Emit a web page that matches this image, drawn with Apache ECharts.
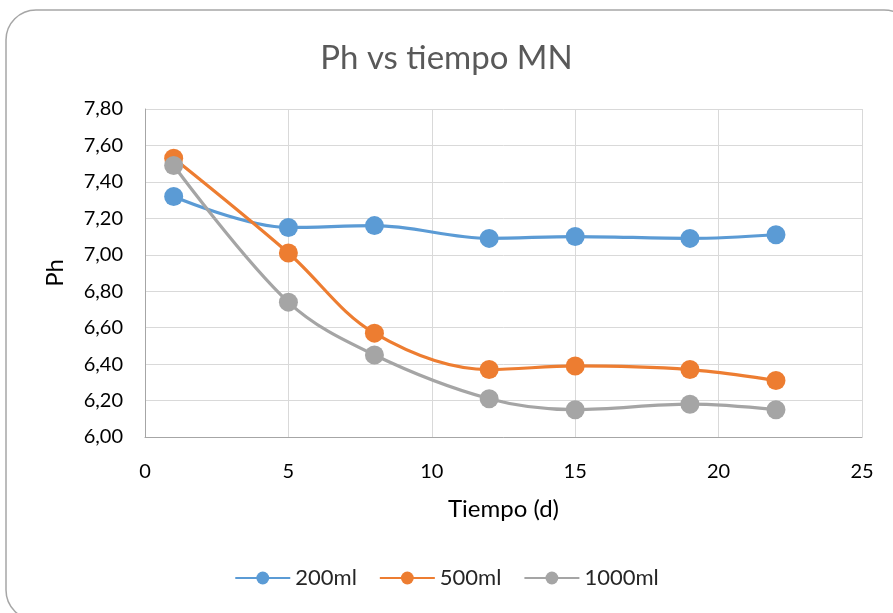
<!DOCTYPE html>
<html>
<head>
<meta charset="utf-8">
<script src="https://cdn.jsdelivr.net/npm/echarts@6/dist/echarts.min.js"></script>
<style>
  html, body { margin: 0; padding: 0; background: #fff; }
  #chart { width: 893px; height: 613px; }
</style>
</head>
<body>
<div id="chart"></div>
<script>
// Sampling days (x) and pH readings for each volume
const days = [1, 5, 8, 12, 15, 19, 22];
const ph200 = [7.32, 7.15, 7.16, 7.09, 7.10, 7.09, 7.11];
const ph500 = [7.53, 7.01, 6.57, 6.37, 6.39, 6.37, 6.31];
const ph1000 = [7.49, 6.74, 6.45, 6.21, 6.15, 6.18, 6.15];
const seriesNames = ['200ml', '500ml', '1000ml'];
const seriesColors = ['#5B9BD5', '#ED7D31', '#A5A5A5'];

const FONT = 'Lato, "Open Sans", sans-serif';

function pairs(xs, ys) {
  return xs.map((x, i) => [x, ys[i]]);
}

function makeSeries(name, values, color) {
  return {
    name: name,
    type: 'line',
    smooth: 0.35,
    data: pairs(days, values),
    symbol: 'circle',
    symbolSize: 19,
    lineStyle: { color: color, width: 3.2 },
    itemStyle: { color: color },
    emphasis: { disabled: true },
    animation: false
  };
}

const chart = echarts.init(document.getElementById('chart'));
chart.setOption({
  backgroundColor: '#fff',
  animation: false,
  graphic: [{
    type: 'rect',
    shape: { x: 6, y: 10, width: 908, height: 610, r: 30 },
    style: { fill: 'none', stroke: '#a6a6a6', lineWidth: 1.5 },
    silent: true,
    z: -1
  }],
  title: {
    text: 'Ph vs tiempo MN',
    left: 'center',
    top: 37,
    textStyle: { fontFamily: FONT, fontSize: 33, fontWeight: 'normal', color: '#595959' }
  },
  grid: { left: 145, right: 31, top: 109, bottom: 176 },
  legend: {
    bottom: 19,
    left: 'center',
    itemWidth: 55,
    itemHeight: 16,
    itemGap: 22,
    textStyle: { fontFamily: FONT, fontSize: 22, color: '#262626' },
    data: seriesNames
  },
  xAxis: {
    type: 'value',
    min: 0,
    max: 25,
    interval: 5,
    name: 'Tiempo (d)',
    nameLocation: 'middle',
    nameGap: 60,
    nameTextStyle: { fontFamily: FONT, fontSize: 24, color: '#000' },
    axisLine: { lineStyle: { color: '#a6a6a6', width: 1 } },
    axisTick: { show: false },
    axisLabel: { fontFamily: FONT, fontSize: 20, color: '#000', margin: 25 },
    splitLine: { show: true, lineStyle: { color: '#d9d9d9', width: 1 } }
  },
  yAxis: {
    type: 'value',
    min: 6.0,
    max: 7.8,
    interval: 0.2,
    name: 'Ph',
    nameLocation: 'middle',
    nameGap: 78,
    nameRotate: 90,
    nameTextStyle: { fontFamily: FONT, fontSize: 24, color: '#000' },
    axisLine: { show: true, lineStyle: { color: '#a6a6a6', width: 1 } },
    axisTick: { show: false },
    axisLabel: {
      fontFamily: FONT, fontSize: 20, color: '#000', margin: 22,
      formatter: v => v.toFixed(2).replace('.', ',')
    },
    splitLine: { show: true, lineStyle: { color: '#d9d9d9', width: 1 } }
  },
  series: [
    makeSeries(seriesNames[0], ph200, seriesColors[0]),
    makeSeries(seriesNames[1], ph500, seriesColors[1]),
    makeSeries(seriesNames[2], ph1000, seriesColors[2])
  ]
});
</script>
</body>
</html>
